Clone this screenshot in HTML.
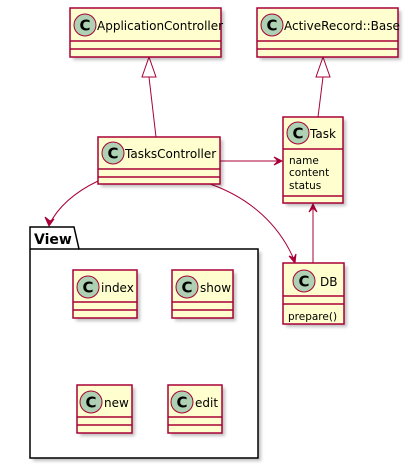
<!DOCTYPE html>
<html><head><meta charset="utf-8"><style>
html,body{margin:0;padding:0;background:#fff}
svg{display:block}
text{font-family:"DejaVu Sans","Liberation Sans",sans-serif;fill:#000}
</style></head><body>
<svg width="408" height="468" viewBox="0 0 408 468" xmlns="http://www.w3.org/2000/svg">
<defs>
<filter id="sh" x="-10%" y="-10%" width="130%" height="130%"><feGaussianBlur stdDeviation="1.5"/></filter>
<g id="ci"><circle r="11" fill="#ADD1B2" stroke="#A80036" stroke-width="1"/><text x="0" y="5.5" text-anchor="middle" font-size="15" font-weight="bold" font-family="Liberation Sans">C</text></g>
</defs>
<g fill="none" stroke="#A80036" stroke-width="1">
<line x1="149" y1="77" x2="156" y2="137"/>
<polygon points="142,77 156,77 149,57" fill="#fff"/>
<line x1="323" y1="77" x2="318" y2="117"/>
<polygon points="316,77 330,77 323,57" fill="#fff"/>
<line x1="220" y1="161" x2="282" y2="161"/>
<path d="M274,157 L282,161 L274,165 L278,161 Z" fill="#A80036"/>
<line x1="313" y1="263" x2="313" y2="204"/>
<path d="M309,212 L313,204 L317,212 L313,208 Z" fill="#A80036"/>
<path d="M98,181 C75,192 58,207 49,225"/>
<path d="M45,217 L49,226 L54,219 L50,221 Z" fill="#A80036"/>
<path d="M210,184 C250,198 280,225 295,262"/>
<path d="M289,256 L295,263 L296,254 L294,258 Z" fill="#A80036"/>
</g>
<g>
<rect x="33" y="252" width="228" height="209" fill="#000" opacity="0.25" filter="url(#sh)"/>
<path d="M30,249 L30,227 L74,227 L79,249 L258,249 L258,458 L30,458 Z" fill="#fff" stroke="#000" stroke-width="1.5"/>
<line x1="30" y1="249" x2="79" y2="249" stroke="#000" stroke-width="1.5"/>
<text x="34" y="244" font-size="14" font-weight="bold">View</text>
</g>
<g stroke="#A80036" stroke-width="1.5">
<g fill="#000" opacity="0.25" stroke="none" filter="url(#sh)">
<rect x="73" y="11" width="151" height="49"/>
<rect x="260" y="11" width="141" height="49"/>
<rect x="101" y="140" width="122" height="47"/>
<rect x="286" y="120" width="60" height="86"/>
<rect x="286" y="266" width="61" height="61"/>
<rect x="76" y="273" width="64" height="48"/>
<rect x="175" y="273" width="61" height="48"/>
<rect x="80" y="388" width="55" height="48"/>
<rect x="171" y="388" width="54" height="48"/>
</g>
<rect x="70" y="8" width="151" height="49" fill="#FEFECE"/>
<line x1="70" y1="41" x2="221" y2="41"/><line x1="70" y1="49" x2="221" y2="49"/>
<rect x="257" y="8" width="141" height="49" fill="#FEFECE"/>
<line x1="257" y1="41" x2="398" y2="41"/><line x1="257" y1="49" x2="398" y2="49"/>
<rect x="98" y="137" width="122" height="47" fill="#FEFECE"/>
<line x1="98" y1="169" x2="220" y2="169"/><line x1="98" y1="177" x2="220" y2="177"/>
<rect x="283" y="117" width="60" height="86" fill="#FEFECE"/>
<line x1="283" y1="149" x2="343" y2="149"/><line x1="283" y1="196" x2="343" y2="196"/>
<rect x="283" y="263" width="61" height="61" fill="#FEFECE"/>
<line x1="283" y1="296" x2="344" y2="296"/><line x1="283" y1="304" x2="344" y2="304"/>
<rect x="73" y="270" width="64" height="48" fill="#FEFECE"/>
<line x1="73" y1="302" x2="137" y2="302"/><line x1="73" y1="310" x2="137" y2="310"/>
<rect x="172" y="270" width="61" height="48" fill="#FEFECE"/>
<line x1="172" y1="302" x2="233" y2="302"/><line x1="172" y1="310" x2="233" y2="310"/>
<rect x="77" y="385" width="55" height="48" fill="#FEFECE"/>
<line x1="77" y1="417" x2="132" y2="417"/><line x1="77" y1="425" x2="132" y2="425"/>
<rect x="168" y="385" width="54" height="48" fill="#FEFECE"/>
<line x1="168" y1="417" x2="222" y2="417"/><line x1="168" y1="425" x2="222" y2="425"/>
</g>
<use href="#ci" x="85" y="25"/><text x="97" y="30" font-size="12">ApplicationController</text>
<use href="#ci" x="272" y="25"/><text x="284" y="30" font-size="12">ActiveRecord::Base</text>
<use href="#ci" x="113" y="153"/><text x="125" y="158" font-size="12">TasksController</text>
<use href="#ci" x="298" y="133"/><text x="310" y="138" font-size="12">Task</text>
<text x="289" y="164" font-size="10.5">name</text>
<text x="289" y="176" font-size="10.5">content</text>
<text x="289" y="189" font-size="10.5">status</text>
<use href="#ci" x="304" y="281"/><text x="320" y="286" font-size="12">DB</text>
<text x="288" y="320" font-size="10.5">prepare()</text>
<use href="#ci" x="88" y="287"/><text x="101" y="292" font-size="12">index</text>
<use href="#ci" x="187" y="287"/><text x="200" y="292" font-size="12">show</text>
<use href="#ci" x="91" y="402"/><text x="104" y="407" font-size="12">new</text>
<use href="#ci" x="182" y="402"/><text x="195" y="407" font-size="12">edit</text>
</svg>
</body></html>
